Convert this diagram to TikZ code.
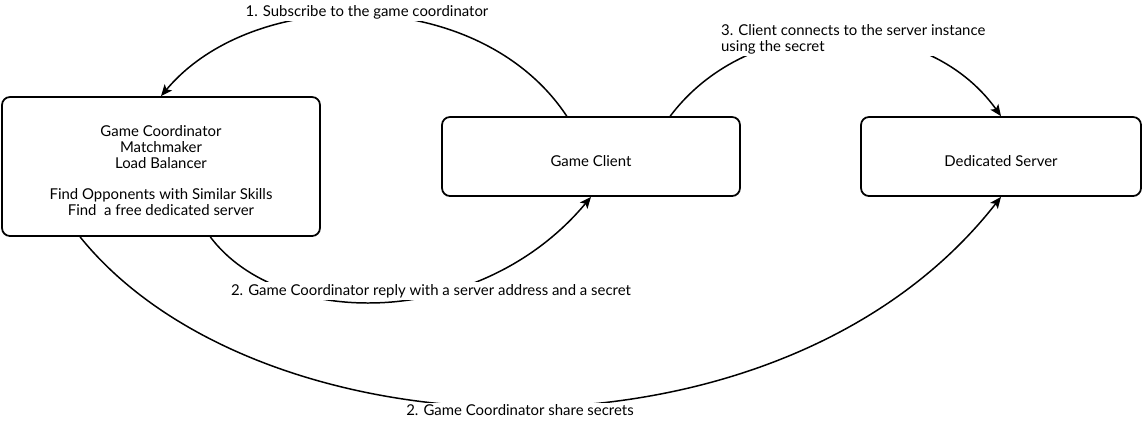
\documentclass[tikz,border=0pt]{standalone}
\usepackage{fontspec}
\setmainfont{Lato}
\usetikzlibrary{arrows.meta}
\newcommand{\lowr}{\rule{0pt}{11pt}}
\begin{document}
\begin{tikzpicture}[x=0.02cm, y=-0.02cm, font=\fontsize{8.5}{9}\selectfont,
  box/.style={draw, rounded corners=4.5pt, line width=1pt, align=center},
  link/.style={line width=0.85pt, -{Stealth[length=6.5pt, width=5.5pt, inset=1.5pt]}},
  lbl/.style={fill=white, inner sep=1pt}]
  \useasboundingbox (0,0) rectangle (1142,420);

  \node[box, minimum width=6.36cm, minimum height=2.78cm] (gc) at (161,166.5)
    {\lowr Game Coordinator\\Matchmaker\\Load Balancer\\[9pt]Find Opponents with Similar Skills\\Find\ \ a free dedicated server};
  \node[box, minimum width=5.96cm, minimum height=1.58cm] (client) at (591,156.5) {\lowr Game Client};
  \node[box, minimum width=5.6cm, minimum height=1.58cm] (server) at (1001,156.5) {\lowr Dedicated Server};

  \draw[link] (client.121) .. controls (480,-15) and (254,-15) .. (gc.north);
  \draw[link] (client.27.5) .. controls (750,10) and (925,10) .. (server.north);
  \draw[link] (gc.-55) .. controls (280,330) and (480,330) .. (client.south);
  \draw[link] (gc.221) .. controls (260,460) and (780,480) .. (server.south);

  \node[lbl] (l1) at (367,12) {1. Subscribe to the game coordinator};
  \node[lbl, align=left, anchor=west] (l3) at (719,39) {3. Client connects to the server instance\\using the secret};
  \node[lbl] (l2) at (431,291) {2. Game Coordinator reply with a server address and a secret};
  \node[lbl] (l4) at (520,410) {2. Game Coordinator share secrets};
\end{tikzpicture}
\end{document}
